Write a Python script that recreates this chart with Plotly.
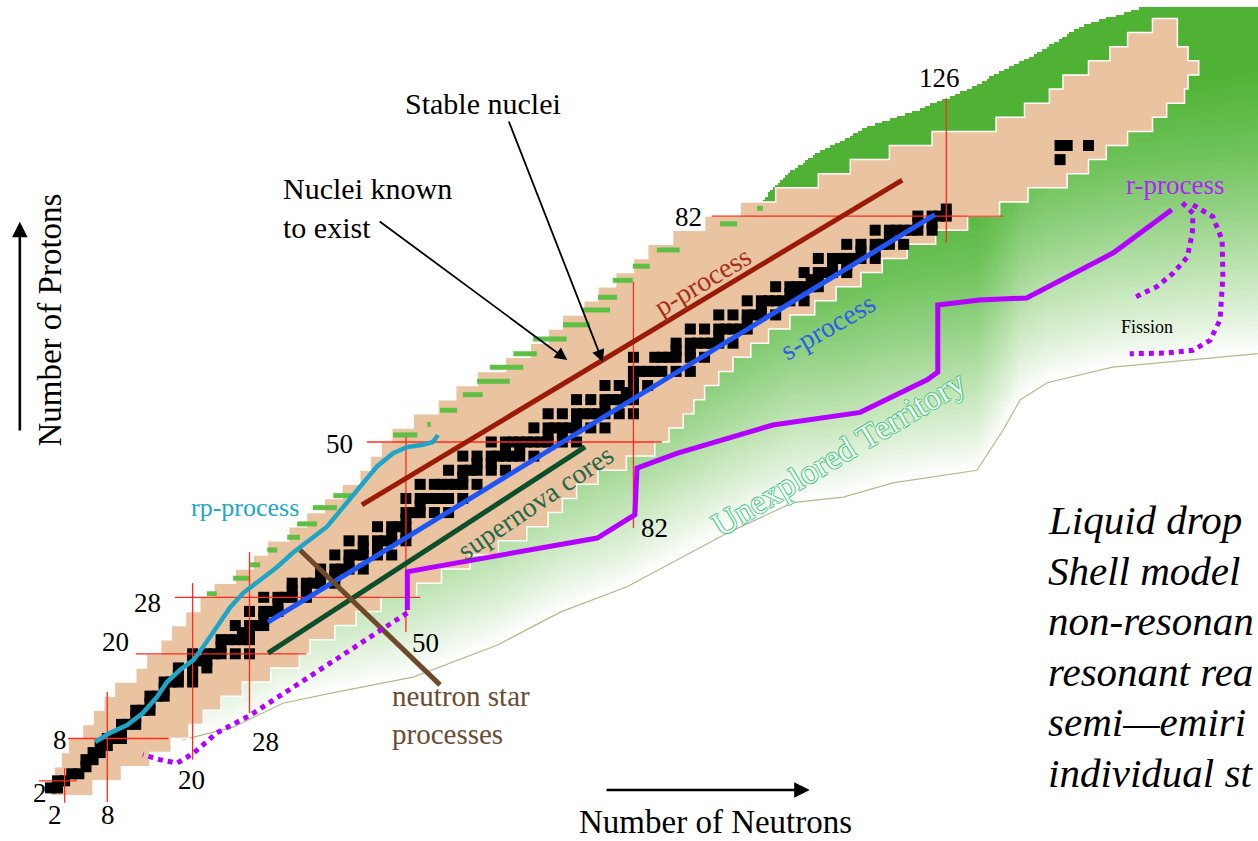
import numpy as np
import plotly.graph_objects as go

# Chart of the nuclides: neutron number N on x, proton number Z on y.

# ---- stable (and very long-lived) isotopes: neutron numbers for each Z ----
stable_neutrons = {
    1: [0, 1], 2: [1, 2], 3: [3, 4], 4: [5], 5: [5, 6], 6: [6, 7], 7: [7, 8],
    8: [8, 9, 10], 9: [10], 10: [10, 11, 12], 11: [12], 12: [12, 13, 14], 13: [14],
    14: [14, 15, 16], 15: [16], 16: [16, 17, 18, 20], 17: [18, 20], 18: [18, 20, 22],
    19: [20, 21, 22], 20: [20, 22, 23, 24, 26, 28], 21: [24], 22: [24, 25, 26, 27, 28],
    23: [27, 28], 24: [26, 28, 29, 30], 25: [30], 26: [28, 30, 31, 32], 27: [32],
    28: [30, 32, 33, 34, 36], 29: [34, 36], 30: [34, 36, 37, 38, 40], 31: [38, 40],
    32: [38, 40, 41, 42, 44], 33: [42], 34: [40, 42, 43, 44, 46, 48], 35: [44, 46],
    36: [42, 44, 46, 47, 48, 50], 37: [48, 50], 38: [46, 48, 49, 50], 39: [50],
    40: [50, 51, 52, 54, 56], 41: [52], 42: [50, 52, 53, 54, 55, 56, 58],
    44: [52, 54, 55, 56, 57, 58, 60], 45: [58], 46: [56, 58, 59, 60, 62, 64],
    47: [60, 62], 48: [58, 60, 62, 63, 64, 65, 66, 68], 49: [64, 66],
    50: [62, 64, 65, 66, 67, 68, 69, 70, 72, 74], 51: [70, 72],
    52: [68, 70, 71, 72, 73, 74, 76, 78], 53: [74],
    54: [70, 72, 74, 75, 76, 77, 78, 80, 82], 55: [78],
    56: [74, 76, 78, 79, 80, 81, 82], 57: [81, 82], 58: [78, 80, 82, 84], 59: [82],
    60: [82, 83, 84, 85, 86, 88, 90], 62: [82, 85, 86, 87, 88, 90, 92], 63: [88, 90],
    64: [88, 90, 91, 92, 93, 94, 96], 65: [94], 66: [90, 92, 94, 95, 96, 97, 98],
    67: [98], 68: [94, 96, 98, 99, 100, 102], 69: [100],
    70: [98, 100, 101, 102, 103, 104, 106], 71: [104, 105],
    72: [102, 104, 105, 106, 107, 108], 73: [107, 108], 74: [106, 108, 109, 110, 112],
    75: [110, 112], 76: [108, 110, 111, 112, 113, 114, 116], 77: [114, 116],
    78: [112, 114, 116, 117, 118, 120], 79: [118],
    80: [116, 118, 119, 120, 121, 122, 124], 81: [122, 124], 82: [122, 124, 125, 126],
    83: [126], 90: [142], 92: [142, 143, 146],
}

# ---- nuclei known to exist: N limits for rows of two protons ----
known_row_z = list(range(0, 110, 2))
known_nmin = [0, 0.5, 1.5, 2.5, 4.5, 6, 7.5, 9, 12, 13.5, 15.5, 17, 19, 21, 23, 26,
              28.5, 30.5, 33.5, 36, 38.5, 41, 43.5, 45, 46.5, 48, 51, 54.5, 57, 60,
              64, 67.5, 70, 72, 75, 77, 79.5, 82, 84, 87.5, 92, 97, 102, 108, 112.5,
              118, 124, 133, 137, 140.5, 142.4, 146, 149, 151.5, 155]
known_nmax = [6, 10, 14, 17, 19.5, 21.5, 24, 27, 31, 35, 36.5, 40, 43, 46.5, 51.5, 55,
              59, 63, 67, 70, 72, 74, 77, 81, 85, 87, 89, 90.5, 92, 94, 96, 98.5, 101,
              104, 107.5, 110.5, 114, 117, 120.5, 124.5, 129, 133.5, 137.5, 143, 146,
              148.5, 151.5, 155, 157, 159.5, 160, 161.5, 160, 158.5, 158.5]

# short green steps along the proton-rich edge: (N from, N to, Z)
drip_steps = [(22.0, 23.4, 28.5), (25.7, 28.1, 30.7), (28.1, 29.5, 32.6), (30.5, 31.9, 34.7),
              (33.3, 35.1, 36.5), (34.7, 37.5, 38.4), (36.9, 40.3, 40.7), (39.8, 42.6, 42.4),
              (48.2, 51.6, 51.0), (53.0, 53.5, 52.5), (54.8, 57.2, 54.5), (58.0, 60.8, 56.7),
              (60.0, 64.6, 58.6), (61.8, 66.5, 60.6), (65.1, 68.4, 62.5), (67.9, 72.6, 64.6),
              (72.1, 75.9, 66.6), (74.9, 78.7, 68.7), (77.0, 79.7, 70.5), (79.1, 81.9, 72.9),
              (81.9, 84.3, 74.9), (85.3, 88.5, 77.2), (94.2, 96.6, 80.9), (99.4, 100.2, 83.1)]

# ---- predicted-nuclei (unexplored) territory: lower and upper edges vs N ----
terr_low_n = [18.6, 25.7, 32.7, 39.3, 51.0, 62.8, 71.7, 81.1, 95.2, 104.4, 111.5, 118.5,
              130.3, 134.0, 136.4, 140.2, 149.4, 169.8, 175.0]
terr_low_z = [7.8, 9.6, 13.0, 14.4, 16.7, 21.2, 25.9, 29.5, 37.1, 41.4, 42.2, 44.2,
              46.0, 51.7, 56.0, 58.4, 60.6, 62.6, 63.0]
terr_top_n = [18.6, 20, 35, 65, 90, 96, 99.4, 103.0, 107.8, 114.9, 121.9, 128.9, 132.9,
              137.8, 144.8, 153.2, 169.8, 175.0]
terr_top_z = [7.8, 10, 27, 48, 70, 78, 83.3, 87.5, 90.9, 94.6, 97.0, 99.9, 102.0,
              104.5, 108.8, 111.5, 111.6, 113.0]

# ---- magic numbers ----
magic_n = [2, 8, 20, 28, 50, 82, 126]
magic_n_zspan = [(-1.1, 3.8), (-1.0, 14.6), (5.0, 30.0), (11.6, 34.4), (23.1, 50.7),
                 (37.8, 72.7), (78.3, 98.7)]
magic_z = [2, 8, 20, 28, 50, 82]
magic_z_nspan = [(-1.6, 3.7), (2.5, 16.6), (12, 36), (17.5, 52), (44.5, 86), (93, 134)]
magic_labels = ["2", "2", "8", "8", "20", "20", "28", "28", "50", "50", "82", "82", "126"]
magic_label_n = [-1.5, 0.6, 1.4, 8.1, 9.1, 19.9, 13.7, 30.2, 40.7, 52.7, 89.7, 85.0, 125.1]
magic_label_z = [0.3, -2.8, 7.8, -2.8, 21.7, 2.1, 27.2, 7.5, 49.7, 21.5, 81.9, 37.8, 101.6]

# ---- nucleosynthesis paths ----
p_process_n, p_process_z = [43.8, 119.8], [41.1, 87.1]
s_process_n, s_process_z = [30.6, 124.4], [24.5, 82.2]
sn_cores_n, sn_cores_z = [30.6, 75.2], [20.1, 49.3]
ns_proc_n, ns_proc_z = [35.1, 54.8], [34.7, 15.6]
rp_n = [6.3, 8.4, 10.8, 13.0, 15.0, 16.4, 18.2, 20.1, 21.5, 23.4, 25.3, 27.1, 29.5, 31.9,
        34.1, 36.5, 38.9, 41.2, 43.5, 45.9, 48.2, 50.2, 52.4, 53.8, 54.5]
rp_z = [7.5, 8.8, 9.9, 11.6, 13.9, 16.0, 17.7, 19.1, 21.0, 23.8, 26.6, 28.6, 30.5, 32.3,
        34.3, 36.1, 38.0, 40.8, 43.6, 46.5, 48.4, 49.3, 49.6, 50.0, 51.0]
r_n = [50.2, 50.2, 53.4, 76.9, 82.2, 82.5, 88.1, 101.6, 113.9, 123.3, 124.8, 124.8,
       130.7, 137.3, 149.5, 157.7]
r_z = [26.2, 31.6, 32.2, 36.4, 39.7, 46.3, 48.4, 52.4, 54.2, 58.8, 59.9, 69.4,
       70.1, 70.4, 76.8, 82.9]
r_low_n = [50.2, 37.9, 32.7, 28.1, 23.4, 20.1, 17.8, 15.4, 13.0]
r_low_z = [25.8, 17.7, 14.2, 11.3, 8.8, 5.9, 4.5, 5.0, 5.7]
fission_a_n = [159.2, 160.7, 160.6, 159.9, 157.9, 155.6, 152.3]
fission_a_z = [83.9, 82.4, 79.6, 76.2, 73.9, 72.0, 70.4]
fission_b_n = [160.7, 163.5, 164.8, 164.9, 164.5, 163.1, 160.7, 157.0, 151.8]
fission_b_z = [83.6, 81.9, 78.6, 73.4, 67.3, 64.4, 63.0, 62.6, 62.5]

model_lines = ["Liquid drop", "Shell model", "non-resonan", "resonant rea",
               "semi\u2014emiri", "individual st"]

SERIF = "Liberation Serif, Times New Roman, serif"
X_RANGE = [-7.09, 169.84]
Y_RANGE = [-6.52, 112.61]

fig = go.Figure()

# --- shaded territory: green fading towards its lower (neutron-rich) edge ---
gx = np.arange(X_RANGE[0], X_RANGE[1] + 0.35, 0.35)
gy = np.arange(Y_RANGE[0], Y_RANGE[1] + 0.35, 0.35)
GX, GY = np.meshgrid(gx, gy)
low_edge = np.interp(GX, terr_low_n, terr_low_z)
top_edge = np.interp(GX, terr_top_n, terr_top_z)
inside = (GX >= terr_low_n[0]) & (GY >= low_edge) & (GY <= top_edge)
shade = np.clip((GY - low_edge) / 40.0, 0, 1)
shade[~inside] = np.nan
fig.add_trace(go.Heatmap(
    x=gx, y=gy, z=shade, zmin=0, zmax=1, showscale=False, hoverinfo="skip",
    colorscale=[[0, "#ffffff"], [0.12, "#e4f3df"], [0.3, "#bfe4b3"], [0.5, "#96d387"],
                [0.72, "#6fc35a"], [1, "#4fb235"]]))
fig.add_trace(go.Scatter(x=terr_low_n, y=terr_low_z, mode="lines",
                         line=dict(color="#a9be88", width=1.2), hoverinfo="skip"))

# --- nuclei known to exist (staircase region) ---
kx, ky = [], []
for z0, hi in zip(known_row_z, known_nmax):
    kx += [hi, hi]
    ky += [z0, z0 + 2]
for z0, lo in zip(known_row_z[::-1], known_nmin[::-1]):
    kx += [lo, lo]
    ky += [z0 + 2, z0]
fig.add_trace(go.Scatter(x=kx, y=ky, mode="lines", fill="toself", fillcolor="#eac3a0",
                         line=dict(color="white", width=1.5), hoverinfo="skip"))

# green steps on the proton-rich edge
dx, dy = [], []
for n0, n1, z in drip_steps:
    dx += [n0, n1, None]
    dy += [z, z, None]
fig.add_trace(go.Scatter(x=dx, y=dy, mode="lines", line=dict(color="#5fbf45", width=5),
                         hoverinfo="skip"))

# --- stable nuclei ---
sn, sz = [], []
for z, ns in stable_neutrons.items():
    for n in ns:
        sn.append(n)
        sz.append(z)
fig.add_trace(go.Scatter(x=sn, y=sz, mode="markers",
                         marker=dict(symbol="square", size=11, color="black", line=dict(width=0)),
                         hoverinfo="skip"))

# --- magic number lines ---
mx, my = [], []
for n, (z0, z1) in zip(magic_n, magic_n_zspan):
    mx += [n, n, None]
    my += [z0, z1, None]
for z, (n0, n1) in zip(magic_z, magic_z_nspan):
    mx += [n0, n1, None]
    my += [z, z, None]
fig.add_trace(go.Scatter(x=mx, y=my, mode="lines", line=dict(color="#ff2b1c", width=1.3),
                         hoverinfo="skip"))


def path(xs, ys, color, width, dash="solid"):
    fig.add_trace(go.Scatter(x=xs, y=ys, mode="lines", hoverinfo="skip",
                             line=dict(color=color, width=width, dash=dash)))


path(sn_cores_n, sn_cores_z, "#0b4f2c", 5)
path(p_process_n, p_process_z, "#9c1a08", 5)
path(s_process_n, s_process_z, "#1f55f5", 5)
path(ns_proc_n, ns_proc_z, "#6e4a2a", 5)
path(rp_n, rp_z, "#1ea4c6", 4.5)
path(r_n, r_z, "#b300ff", 5)
path(r_low_n, r_low_z, "#b300ff", 5, "dot")
path(fission_a_n, fission_a_z, "#b300ff", 5, "dot")
path(fission_b_n, fission_b_z, "#b300ff", 5, "dot")


def label(text, n, z, size, color="black", angle=0, xanchor="center", align="center",
          shadow=None):
    font = dict(family=SERIF, size=size, color=color)
    if shadow:
        font["shadow"] = shadow
    fig.add_annotation(x=n, y=z, xref="x", yref="y", text=text, showarrow=False,
                       textangle=angle, xanchor=xanchor, yanchor="middle", align=align,
                       font=font)


for t, n, z in zip(magic_labels, magic_label_n, magic_label_z):
    label(t, n, z, 27)

label("p-process", 91.7, 72.7, 28, "#a83018", -31)
label("s-process", 109.4, 66.3, 28, "#2b5fe8", -30)
label("supernova cores", 68.2, 41.4, 28, "#24694a", -34)
outline = "#3fc07f"
label("Unexplored Territory", 110.8, 48.4, 34, "#effaf3", -31,
      shadow=f"1px 0 0 {outline}, -1px 0 0 {outline}, 0 1px 0 {outline}, 0 -1px 0 {outline}")
label("rp-process", 27.4, 40.7, 26, "#20a6c8")
label("r-process", 158.2, 86.4, 27, "#b51dff")
label("Fission", 154.2, 66.3, 18)
label("neutron star<br>processes", 47.8, 11.3, 29, "#6b4c33", xanchor="left", align="left")
label("Stable nuclei", 60.9, 98.0, 30)
label("Nuclei known<br>to exist", 32.4, 83.1, 30, xanchor="left", align="left")
label("Number of Protons", -0.1, 67.3, 33, angle=-90)
label("Number of Neutrons", 93.5, -3.8, 33)


def arrow(n_tail, z_tail, n_head, z_head, width, size):
    fig.add_annotation(x=n_head, y=z_head, ax=n_tail, ay=z_tail, xref="x", yref="y",
                       axref="x", ayref="y", text="", showarrow=True, arrowhead=2,
                       arrowsize=size, arrowwidth=width, arrowcolor="black", standoff=0)


arrow(64.4, 95.6, 77.7, 61.3, 1.8, 1.4)
arrow(46.1, 81.4, 72.7, 61.6, 1.8, 1.4)
arrow(-4.3, 51.4, -4.3, 81.2, 2.6, 1.2)
arrow(78.0, 0.7, 106.8, 0.7, 2.6, 1.2)

# model list on the right
for k, line in enumerate(model_lines):
    fig.add_annotation(x=1046 / 1258, y=1 - (520 + 50.6 * k) / 841, xref="paper", yref="paper",
                       text=f"<i>{line}</i>", showarrow=False, xanchor="left", yanchor="middle",
                       font=dict(family=SERIF, size=41, color="black"))

fig.update_layout(
    width=1258, height=841, margin=dict(l=0, r=0, t=0, b=0),
    paper_bgcolor="white", plot_bgcolor="white", showlegend=False,
    xaxis=dict(range=X_RANGE, visible=False, fixedrange=True),
    yaxis=dict(range=Y_RANGE, visible=False, fixedrange=True),
)

fig.write_html("out.html", post_script="document.body.style.margin='0';")
